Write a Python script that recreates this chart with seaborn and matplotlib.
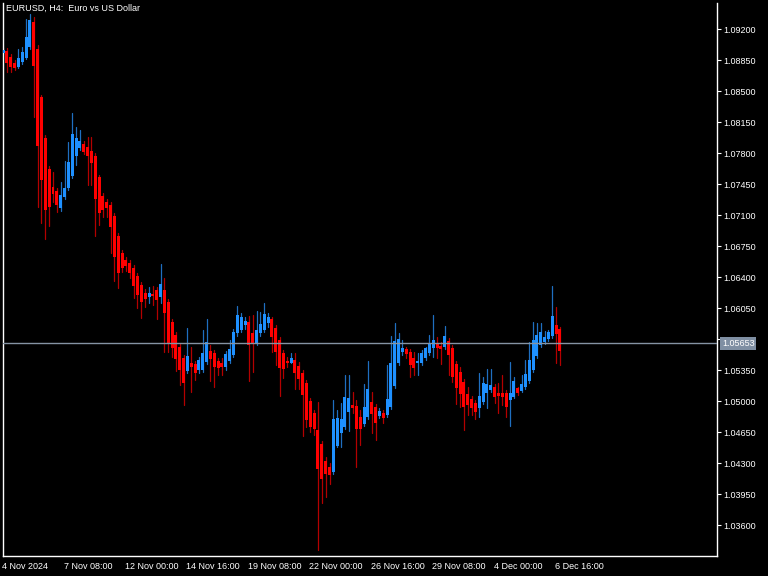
import matplotlib
matplotlib.use("Agg")
import matplotlib.pyplot as plt
import matplotlib.transforms as mtransforms
import seaborn as sns
import numpy as np
import pandas as pd

title = "EURUSD, H4:  Euro vs US Dollar"
current_price = 1.05653

opens = [1.08934, 1.08955, 1.08887, 1.08819, 1.08774, 1.08824, 1.08876, 1.08993, 1.09282, 1.08974,
         1.08429, 1.07966, 1.07616, 1.07412, 1.07374, 1.07175, 1.07306, 1.07408, 1.07543, 1.07769,
         1.07860, 1.07901, 1.07871, 1.07826, 1.07766, 1.07525, 1.07314, 1.07250, 1.07213, 1.07088,
         1.06863, 1.06667, 1.06592, 1.06554, 1.06505, 1.06411, 1.06309, 1.06222, 1.06177, 1.06208,
         1.06253, 1.06171, 1.06253, 1.06121, 1.05895, 1.05745, 1.05613, 1.05482, 1.05344, 1.05432,
         1.05417, 1.05350, 1.05350, 1.05443, 1.05568, 1.05538, 1.05455, 1.05425, 1.05387, 1.05455,
         1.05519, 1.05764, 1.05801, 1.05858, 1.05888, 1.05764, 1.05658, 1.05764, 1.05801, 1.05877,
         1.05922, 1.05821, 1.05688, 1.05538, 1.05455, 1.05432, 1.05463, 1.05395, 1.05319, 1.05200,
         1.05000, 1.04861, 1.04672, 1.04511, 1.04326, 1.04258, 1.04202, 1.04492, 1.04642, 1.04710,
         1.04879, 1.04955, 1.04943, 1.04816, 1.04740, 1.04825, 1.04992, 1.04929, 1.04834, 1.04868,
         1.04842, 1.04929, 1.05172, 1.05425, 1.05556, 1.05587, 1.05556, 1.05489, 1.05425, 1.05432,
         1.05482, 1.05538, 1.05601, 1.05651, 1.05624, 1.05613, 1.05677, 1.05595, 1.05417, 1.05327,
         1.05211, 1.05075, 1.05019, 1.04974, 1.04924, 1.04992, 1.05087, 1.05124, 1.05161, 1.05093,
         1.05093, 1.05087, 1.05011, 1.05048, 1.05143, 1.05116, 1.05154, 1.05229, 1.05350, 1.05508,
         1.05632, 1.05669, 1.05696, 1.05734, 1.05858, 1.05809]
highs = [1.08985, 1.08985, 1.08917, 1.08850, 1.08970, 1.09000, 1.09309, 1.09366, 1.09332, 1.09019,
         1.08454, 1.08003, 1.07653, 1.07585, 1.07405, 1.07476, 1.07713, 1.07920, 1.08248, 1.08097,
         1.08059, 1.07935, 1.07980, 1.07984, 1.07800, 1.07551, 1.07348, 1.07280, 1.07246, 1.07122,
         1.06896, 1.06705, 1.06626, 1.06592, 1.06535, 1.06445, 1.06343, 1.06264, 1.06290, 1.06302,
         1.06287, 1.06546, 1.06385, 1.06151, 1.05926, 1.05779, 1.05643, 1.05519, 1.05821, 1.05606,
         1.05451, 1.05496, 1.05801, 1.05922, 1.05632, 1.05576, 1.05485, 1.05482, 1.05564, 1.05688,
         1.05813, 1.06072, 1.05990, 1.05951, 1.05959, 1.05971, 1.06019, 1.06008, 1.06103, 1.05990,
         1.05951, 1.05858, 1.05722, 1.05576, 1.05500, 1.05545, 1.05545, 1.05443, 1.05350, 1.05237,
         1.05034, 1.04898, 1.04992, 1.04548, 1.04368, 1.04300, 1.05011, 1.04898, 1.04974, 1.05293,
         1.05293, 1.05105, 1.05011, 1.04898, 1.05192, 1.05451, 1.05105, 1.04966, 1.04917, 1.04898,
         1.05406, 1.05734, 1.05877, 1.05764, 1.05688, 1.05613, 1.05587, 1.05556, 1.05538, 1.05576,
         1.05613, 1.05745, 1.05971, 1.05726, 1.05669, 1.05847, 1.05711, 1.05632, 1.05451, 1.05387,
         1.05248, 1.05161, 1.05056, 1.05011, 1.05312, 1.05267, 1.05358, 1.05358, 1.05192, 1.05200,
         1.05293, 1.05124, 1.05443, 1.05274, 1.05161, 1.05293, 1.05463, 1.05669, 1.05895, 1.05884,
         1.05884, 1.05793, 1.05801, 1.06298, 1.06064, 1.05835]
lows = [1.08917, 1.08718, 1.08718, 1.08737, 1.08756, 1.08804, 1.08861, 1.08974, 1.08210, 1.07193,
        1.07013, 1.06825, 1.06976, 1.07250, 1.07130, 1.07145, 1.07280, 1.07382, 1.07517, 1.07664,
        1.07834, 1.07788, 1.07438, 1.07438, 1.06863, 1.06987, 1.07077, 1.07077, 1.06667, 1.06358,
        1.06279, 1.06460, 1.06471, 1.06385, 1.06159, 1.06053, 1.05940, 1.06064, 1.06103, 1.06084,
        1.05922, 1.06103, 1.05553, 1.05553, 1.05500, 1.05338, 1.05177, 1.04955, 1.05316, 1.05105,
        1.05237, 1.05312, 1.05327, 1.05417, 1.05229, 1.05154, 1.05293, 1.05293, 1.05350, 1.05429,
        1.05496, 1.05734, 1.05782, 1.05809, 1.05229, 1.05330, 1.05632, 1.05734, 1.05779, 1.05839,
        1.05556, 1.05406, 1.05056, 1.05256, 1.05387, 1.05425, 1.05132, 1.05132, 1.04605, 1.04710,
        1.04653, 1.04616, 1.03318, 1.03845, 1.03919, 1.04063, 1.04176, 1.04477, 1.04484, 1.04684,
        1.04664, 1.04861, 1.04251, 1.04503, 1.04718, 1.04797, 1.04635, 1.04559, 1.04804, 1.04751,
        1.04819, 1.04909, 1.05147, 1.05406, 1.05519, 1.05482, 1.05274, 1.05293, 1.05293, 1.05406,
        1.05463, 1.05519, 1.05500, 1.05482, 1.05414, 1.05587, 1.05293, 1.05218, 1.04963, 1.04935,
        1.04672, 1.04842, 1.04842, 1.04793, 1.04823, 1.04966, 1.04917, 1.05101, 1.04974, 1.04868,
        1.04955, 1.04823, 1.04718, 1.05030, 1.05067, 1.05105, 1.05135, 1.05203, 1.05327, 1.05485,
        1.05609, 1.05643, 1.05681, 1.05711, 1.05432, 1.05406]
closes = [1.08963, 1.08812, 1.08767, 1.08756, 1.08869, 1.08943, 1.09106, 1.09301, 1.08785, 1.07882,
          1.07495, 1.07156, 1.07193, 1.07337, 1.07213, 1.07325, 1.07401, 1.07695, 1.08011, 1.07966,
          1.07935, 1.07814, 1.07769, 1.07683, 1.07277, 1.07119, 1.07156, 1.07175, 1.06961, 1.06629,
          1.06448, 1.06498, 1.06524, 1.06441, 1.06301, 1.06196, 1.06114, 1.06148, 1.06222, 1.06189,
          1.06140, 1.06321, 1.05990, 1.05651, 1.05595, 1.05471, 1.05350, 1.05206, 1.05508, 1.05380,
          1.05312, 1.05463, 1.05538, 1.05669, 1.05471, 1.05380, 1.05369, 1.05380, 1.05530, 1.05583,
          1.05782, 1.05971, 1.05951, 1.05906, 1.05632, 1.05651, 1.05801, 1.05869, 1.05982, 1.05945,
          1.05726, 1.05556, 1.05369, 1.05358, 1.05425, 1.05482, 1.05319, 1.05245, 1.05067, 1.04785,
          1.04710, 1.04680, 1.04229, 1.04116, 1.04176, 1.04164, 1.04793, 1.04804, 1.04793, 1.05048,
          1.05030, 1.04917, 1.04680, 1.04680, 1.04929, 1.05132, 1.04853, 1.04755, 1.04887, 1.04804,
          1.05022, 1.05432, 1.05677, 1.05700, 1.05595, 1.05530, 1.05406, 1.05369, 1.05451, 1.05545,
          1.05595, 1.05658, 1.05688, 1.05595, 1.05583, 1.05734, 1.05519, 1.05274, 1.05147, 1.05079,
          1.04935, 1.04955, 1.04924, 1.04879, 1.05060, 1.05200, 1.05188, 1.05180, 1.05048, 1.05056,
          1.05048, 1.04935, 1.05093, 1.05229, 1.05093, 1.05192, 1.05301, 1.05463, 1.05688, 1.05745,
          1.05775, 1.05719, 1.05782, 1.05959, 1.05756, 1.05568]

x_tick_labels = ["4 Nov 2024", "7 Nov 08:00", "12 Nov 00:00", "14 Nov 16:00", "19 Nov 08:00",
                 "22 Nov 00:00", "26 Nov 16:00", "29 Nov 08:00", "4 Dec 00:00", "6 Dec 16:00"]
x_tick_bars = [0, 16, 32, 48, 64, 80, 96, 112, 128, 144]
y_ticks = [1.03600, 1.03950, 1.04300, 1.04650, 1.05000, 1.05350, 1.05700, 1.06050,
           1.06400, 1.06750, 1.07100, 1.07450, 1.07800, 1.08150, 1.08500, 1.08850, 1.09200]

sns.set_style("dark")
plt.rcParams['font.family'] = ['Liberation Sans', 'DejaVu Sans']

o = np.array(opens); h = np.array(highs); l = np.array(lows); c = np.array(closes)
idx = np.arange(len(o))
up = c >= o

BULL = "#1E90FF"
BEAR = "#FF0000"
BULL_W = "#1F6FC0"
BEAR_W = "#B30000"

fig = plt.figure(figsize=(7.68, 5.76), dpi=100, facecolor="black")
ax = fig.add_axes([2.5 / 768, 1 - 555.5 / 576, (717 - 2.5) / 768, (555.5 - 3) / 576])
ax.set_facecolor("black")

# wicks via seaborn lineplot (one unit per candle)
wick_df = pd.DataFrame({
    "bar": np.concatenate([idx, idx]),
    "price": np.concatenate([l, h]),
    "dir": np.concatenate([np.where(up, "up", "down")] * 2),
})
sns.lineplot(data=wick_df, x="bar", y="price", units="bar", estimator=None, hue="dir",
             palette={"up": BULL_W, "down": BEAR_W}, linewidth=0.9, legend=False,
             sort=False, ax=ax, zorder=2)

# bodies
body_h = np.abs(c - o)
body_h = np.maximum(body_h, 0.00012)
body_b = np.minimum(o, c)
ax.bar(idx, body_h, bottom=body_b, width=0.78,
       color=np.where(up, BULL, BEAR), linewidth=0, zorder=3)

# current price line
ax.axhline(current_price, color="#8593A3", linewidth=1.0, zorder=4)

ax.set_xlim(-0.15, 185.9)
ax.set_ylim(1.03256, 1.09494)
ax.grid(False)

for side in ["left", "bottom", "right"]:
    ax.spines[side].set_color("white")
    ax.spines[side].set_linewidth(1.0)
    ax.spines[side].set_visible(True)
ax.spines["top"].set_visible(False)

ax.yaxis.tick_right()
ax.set_yticks(y_ticks)
ax.set_yticklabels([f"{v:.5f}" for v in y_ticks])
ax.set_xticks(x_tick_bars)
ax.set_xticklabels(x_tick_labels, ha="left")
ax.tick_params(axis="both", colors="white", length=3, width=0.8, direction="out",
               labelsize=6.5, labelcolor="white")
ax.tick_params(axis="y", pad=1.5)
ax.tick_params(axis="x", pad=1.5)
offset = mtransforms.ScaledTranslation(-1 / 100, 0, fig.dpi_scale_trans)
for lab in ax.get_xticklabels():
    lab.set_transform(lab.get_transform() + offset)
ax.set_xlabel("")
ax.set_ylabel("")

ax.annotate(f"{current_price:.5f}", xy=(1.0, current_price), xycoords=("axes fraction", "data"),
            xytext=(3.5, 0), textcoords="offset points", ha="left", va="center",
            fontsize=6.5, color="white", zorder=20, annotation_clip=False,
            bbox=dict(boxstyle="square,pad=0.2", fc="#7F8FA3", ec="none"))

fig.text(6 / 768, 1 - 8.5 / 576, title, color="white", fontsize=6.5, ha="left", va="center")

fig.savefig("out.png", dpi=100, facecolor="black")
